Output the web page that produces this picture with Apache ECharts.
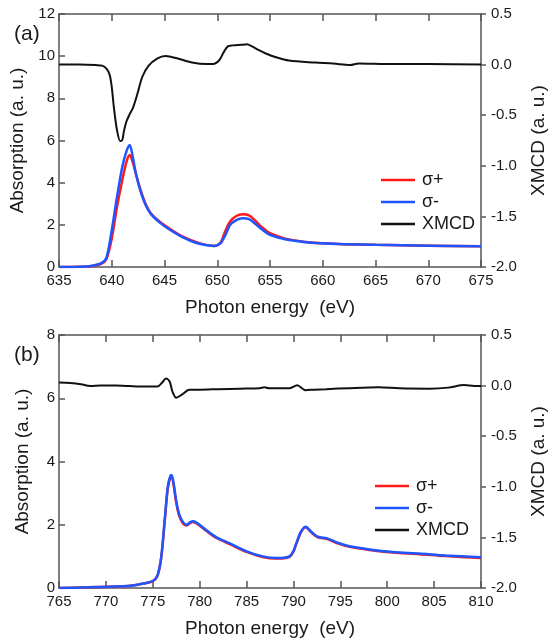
<!DOCTYPE html>
<html>
<head>
<meta charset="utf-8">
<script src="https://cdn.jsdelivr.net/npm/echarts@6/dist/echarts.min.js"></script>
<style>
html,body{margin:0;padding:0;background:#fff;}
#c{width:556px;height:644px;}
</style>
</head>
<body>
<div id="c"></div>
<script>
// ---- Panel (a): Fe L-edge ----
const aEnergy = [635,637,638,639,639.5,640,640.5,641,641.4,641.7,642.0,642.3,642.7,643.2,643.7,644.5,645.4,646.7,648.3,649.7,650.3,650.8,651.2,651.8,652.4,653.0,653.6,654.2,654.9,656,656.8,658.7,661.5,665,670,675];
const aSigmaPlus = [0,0.01,0.04,0.15,0.38,1.35,2.86,4.13,5.0,5.31,4.95,4.4,3.7,3.0,2.55,2.17,1.85,1.45,1.13,1.0,1.15,1.75,2.15,2.42,2.5,2.45,2.2,1.9,1.63,1.42,1.31,1.17,1.09,1.05,1.01,0.98];
const aSigmaMinus = [0,0.01,0.05,0.18,0.45,1.74,3.33,4.76,5.5,5.79,5.2,4.4,3.65,2.95,2.52,2.13,1.8,1.42,1.1,1.0,1.12,1.55,1.98,2.22,2.31,2.27,2.05,1.8,1.55,1.37,1.28,1.16,1.09,1.05,1.01,0.98];
const aXmcdEnergy = [635,637,638.5,639.1,639.5,639.8,640.0,640.2,640.5,640.8,641.0,641.15,641.4,641.7,642.0,642.4,642.9,643.5,644.3,645.1,646.4,647.6,649.0,649.6,650.2,650.6,651.0,651.5,652.3,652.8,653.3,653.9,654.6,655.5,656.8,659.3,661,662.6,663.4,666,670,675];
const aXmcd = [0.0,0.0,-0.005,-0.01,-0.04,-0.1,-0.22,-0.42,-0.65,-0.755,-0.745,-0.66,-0.56,-0.49,-0.43,-0.3,-0.12,-0.01,0.06,0.085,0.055,0.02,0.005,0.005,0.045,0.12,0.18,0.19,0.195,0.2,0.18,0.145,0.11,0.075,0.04,0.02,0.01,-0.004,0.012,0.006,0.005,0.002];

// ---- Panel (b): L-edge ----
const bEnergy = [765,768,771,772.6,774.0,775.0,775.5,775.9,776.3,776.6,776.85,777.0,777.2,777.5,777.8,778.2,778.6,779.0,779.3,779.8,780.7,781.8,783.2,785.0,786.7,788.2,789.0,789.6,790.0,790.3,790.8,791.3,791.9,792.6,793.6,794.7,796.0,798.1,800.6,803.4,806.2,810];
const bSigmaPlus = [0,0.02,0.05,0.07,0.14,0.22,0.38,0.95,2.2,3.15,3.48,3.52,3.3,2.7,2.3,2.05,1.98,2.06,2.09,2.02,1.81,1.58,1.39,1.14,0.98,0.93,0.94,0.99,1.15,1.39,1.76,1.92,1.76,1.6,1.55,1.41,1.3,1.2,1.12,1.07,1.01,0.95];
const bSigmaMinus = [0,0.02,0.05,0.07,0.14,0.22,0.4,0.98,2.25,3.2,3.52,3.57,3.35,2.75,2.35,2.09,2.0,2.08,2.11,2.04,1.83,1.6,1.41,1.16,1.0,0.95,0.96,1.0,1.17,1.41,1.78,1.94,1.78,1.62,1.57,1.43,1.32,1.22,1.14,1.09,1.03,0.97];
const bXmcdEnergy = [765,766.2,767.5,768.3,769.5,771,772.5,773.6,775.5,776.0,776.4,776.8,777.1,777.5,778.1,778.9,780,782,784.3,786.4,786.9,787.4,789.6,790.4,791.3,792.2,793.5,796,799.1,801.3,804.5,806.5,808.2,809.3,810];
const bXmcd = [0.03,0.025,0.01,-0.004,0.0,0.0,-0.005,-0.01,-0.01,0.03,0.07,0.04,-0.06,-0.12,-0.09,-0.04,-0.04,-0.035,-0.03,-0.025,-0.017,-0.027,-0.027,0.004,-0.045,-0.04,-0.035,-0.025,-0.017,-0.027,-0.03,-0.02,0.006,-0.003,-0.003];

// ---- axis ranges / labels ----
const aXRange = [635, 675], bXRange = [765, 810];
const aLeftRange = [0, 12], bLeftRange = [0, 8];
const rightRange = [-2.0, 0.5];
const panelLabels = ['(a)', '(b)'];
const seriesNames = ['σ+', 'σ-', 'XMCD'];
const xName = 'Photon energy  (eV)';
const leftName = 'Absorption (a. u.)';
const rightName = 'XMCD (a. u.)';

const zip = (xs, ys) => xs.map((x, i) => [x, ys[i]]);
const FONT = 'Liberation Sans, Arial, sans-serif';
const AX = '#555';
const TXT = '#1a1a1a';
const RED = '#ff1a1a', BLUE = '#1f55ff', BLACK = '#111';

function xAxisBottom(grid, range) {
  return {
    type: 'value', gridIndex: grid, min: range[0], max: range[1], interval: 5,
    position: 'bottom',
    name: xName, nameLocation: 'middle', nameGap: 31,
    nameTextStyle: { fontFamily: FONT, fontSize: 19, color: TXT },
    axisLine: { show: true, lineStyle: { color: AX, width: 1.5 } },
    axisTick: { show: true, inside: true, length: 7, lineStyle: { color: AX, width: 1.5 } },
    axisLabel: { fontFamily: FONT, fontSize: 15, color: TXT, margin: 6 },
    splitLine: { show: false }
  };
}
function xAxisTop(grid, range) {
  return {
    type: 'value', gridIndex: grid, min: range[0], max: range[1], interval: 5,
    position: 'top',
    axisLine: { show: true, onZero: false, lineStyle: { color: AX, width: 1.5 } },
    axisTick: { show: true, inside: true, length: 7, lineStyle: { color: AX, width: 1.5 } },
    axisLabel: { show: false },
    splitLine: { show: false }
  };
}
function yAxisLeft(grid, range) {
  return {
    type: 'value', gridIndex: grid, min: range[0], max: range[1], interval: 2,
    position: 'left',
    name: leftName, nameLocation: 'middle', nameGap: 27, nameRotate: 90,
    nameTextStyle: { fontFamily: FONT, fontSize: 19, color: TXT },
    axisLine: { show: true, onZero: false, lineStyle: { color: AX, width: 1.5 } },
    axisTick: { show: true, inside: true, length: 6, lineStyle: { color: AX, width: 1.5 } },
    axisLabel: { fontFamily: FONT, fontSize: 15, color: TXT, margin: 4 },
    splitLine: { show: false }
  };
}
function yAxisRight(grid) {
  return {
    type: 'value', gridIndex: grid, min: rightRange[0], max: rightRange[1], interval: 0.5,
    position: 'right',
    name: rightName, nameLocation: 'middle', nameGap: 48, nameRotate: 90,
    nameTextStyle: { fontFamily: FONT, fontSize: 19, color: TXT },
    axisLine: { show: true, onZero: false, lineStyle: { color: AX, width: 1.5 } },
    axisTick: { show: true, inside: false, length: 5, lineStyle: { color: AX, width: 1.5 } },
    axisLabel: { fontFamily: FONT, fontSize: 15, color: TXT, margin: 10,
      formatter: v => v.toFixed(1) },
    splitLine: { show: false }
  };
}
function legendAt(left, top) {
  return {
    orient: 'vertical', left: left, top: top,
    data: seriesNames,
    icon: 'rect', itemWidth: 34, itemHeight: 2.5, itemGap: 4,
    textStyle: { fontFamily: FONT, fontSize: 18, color: TXT, padding: [0, 0, 0, 2] },
    selectedMode: false
  };
}
function line(name, xi, yi, data, color, width) {
  return {
    name: name, type: 'line', xAxisIndex: xi, yAxisIndex: yi,
    data: data, showSymbol: false, symbol: 'none', smooth: 0.3,
    lineStyle: { color: color, width: width }, itemStyle: { color: color },
    animation: false
  };
}

const chart = echarts.init(document.getElementById('c'), null, { renderer: 'canvas' });
chart.setOption({
  backgroundColor: '#fff',
  animation: false,
  title: [
    { text: panelLabels[0], left: 9, top: 19, textStyle: { fontFamily: FONT, fontSize: 21, fontWeight: 'normal', color: TXT } },
    { text: panelLabels[1], left: 9, top: 340, textStyle: { fontFamily: FONT, fontSize: 21, fontWeight: 'normal', color: TXT } }
  ],
  grid: [
    { left: 59, top: 14, width: 424, height: 253, show: false },
    { left: 59, top: 335, width: 424, height: 253, show: false }
  ],
  legend: [legendAt(376, 166), legendAt(370, 472)],
  xAxis: [xAxisBottom(0, aXRange), xAxisTop(0, aXRange), xAxisBottom(1, bXRange), xAxisTop(1, bXRange)],
  yAxis: [yAxisLeft(0, aLeftRange), yAxisRight(0), yAxisLeft(1, bLeftRange), yAxisRight(1)],
  series: [
    line(seriesNames[0], 0, 0, zip(aEnergy, aSigmaPlus), RED, 2.5),
    line(seriesNames[1], 0, 0, zip(aEnergy, aSigmaMinus), BLUE, 2.5),
    line(seriesNames[2], 0, 1, zip(aXmcdEnergy, aXmcd), BLACK, 2),
    line(seriesNames[0], 2, 2, zip(bEnergy, bSigmaPlus), RED, 2.5),
    line(seriesNames[1], 2, 2, zip(bEnergy, bSigmaMinus), BLUE, 2.5),
    line(seriesNames[2], 2, 3, zip(bXmcdEnergy, bXmcd), BLACK, 2)
  ]
});
</script>
</body>
</html>
